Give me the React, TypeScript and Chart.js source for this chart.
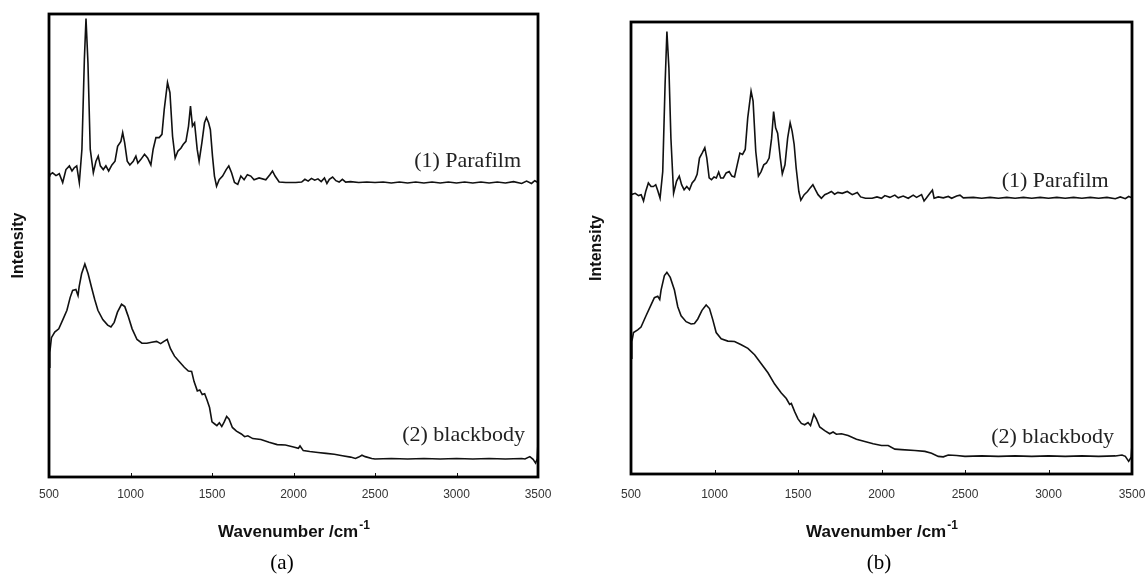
import React, { useEffect, useRef } from "react";
import { Chart, registerables } from "chart.js";
Chart.register(...registerables);

// ---------- tick labels ----------
const xTickValues = [500, 1000, 1500, 2000, 2500, 3000, 3500];
const xTickLabels = ["500", "1000", "1500", "2000", "2500", "3000", "3500"];

// ---------- panel (a) ----------
const paraA_x = [500, 506, 522, 543, 563, 584, 604, 625, 641, 655, 670, 686, 702, 717, 727, 739, 753, 772, 788, 802, 815, 833, 849, 866, 886, 905, 921, 941, 952, 964, 980, 996, 1017, 1033, 1045, 1064, 1086, 1105, 1125, 1139, 1156, 1176, 1193, 1207, 1227, 1242, 1258, 1274, 1291, 1309, 1323, 1340, 1356, 1368, 1380, 1393, 1409, 1421, 1438, 1454, 1466, 1479, 1490, 1503, 1515, 1528, 1544, 1565, 1587, 1603, 1620, 1638, 1658, 1677, 1697, 1717, 1738, 1758, 1789, 1830, 1855, 1871, 1887, 1912, 1953, 2014, 2050, 2070, 2090, 2110, 2130, 2150, 2170, 2190, 2205, 2220, 2240, 2260, 2280, 2300, 2320, 2350, 2400, 2450, 2500, 2550, 2600, 2650, 2700, 2750, 2800, 2850, 2900, 2950, 3000, 3050, 3100, 3150, 3200, 3250, 3300, 3350, 3400, 3430, 3460, 3480, 3500];
const paraA_y = [65.1, 65.3, 65.7, 65.1, 65.5, 63.6, 66.4, 67.2, 66.1, 66.8, 67.2, 63.6, 70.8, 90.2, 99.0, 89.4, 70.8, 65.7, 68.2, 69.3, 67.2, 66.4, 67.2, 66.1, 67.4, 68.2, 71.4, 72.5, 74.4, 72.2, 68.2, 67.4, 68.2, 69.3, 67.8, 68.6, 69.7, 68.9, 67.4, 70.8, 73.3, 73.3, 74.0, 79.4, 85.2, 83.0, 73.6, 68.9, 70.4, 71.0, 71.8, 72.5, 75.8, 80.1, 75.8, 76.5, 70.8, 68.2, 72.2, 76.5, 77.6, 76.5, 75.0, 69.3, 65.0, 62.8, 64.2, 65.0, 66.4, 67.2, 65.7, 63.6, 63.2, 65.0, 64.2, 65.3, 65.0, 64.2, 64.6, 64.2, 65.3, 66.1, 65.0, 63.7, 63.6, 63.6, 63.7, 64.3, 63.9, 64.5, 64.1, 64.4, 63.8, 64.6, 63.4, 64.3, 64.8, 64.0, 63.7, 64.3, 63.7, 63.8, 63.6, 63.7, 63.6, 63.7, 63.5, 63.7, 63.5, 63.7, 63.5, 63.7, 63.5, 63.7, 63.5, 63.7, 63.5, 63.7, 63.5, 63.7, 63.5, 63.8, 63.4, 63.9, 63.4, 64.0, 63.6];

const bbA_x = [500, 505, 515, 535, 560, 585, 610, 630, 645, 665, 678, 685, 700, 720, 740, 760, 780, 800, 830, 860, 880, 900, 920, 945, 965, 985, 1010, 1040, 1070, 1100, 1130, 1160, 1185, 1205, 1225, 1245, 1270, 1300, 1330, 1355, 1375, 1390, 1410, 1425, 1440, 1455, 1470, 1485, 1500, 1515, 1530, 1545, 1560, 1575, 1590, 1605, 1625, 1650, 1680, 1700, 1720, 1750, 1800, 1850, 1900, 1950, 2000, 2030, 2040, 2060, 2100, 2150, 2200, 2250, 2300, 2350, 2380, 2400, 2420, 2440, 2480, 2500, 2600, 2700, 2800, 2900, 3000, 3100, 3200, 3300, 3400, 3420, 3450, 3470, 3485, 3495, 3500];
const bbA_y = [23.7, 26.9, 30.1, 31.3, 32.0, 34.0, 36.0, 38.8, 40.3, 40.5, 39.2, 41.1, 43.9, 46.0, 43.9, 41.1, 38.4, 36.0, 34.0, 32.8, 32.4, 33.4, 35.6, 37.3, 36.8, 34.8, 32.0, 29.7, 28.9, 28.9, 29.1, 29.3, 28.8, 29.3, 29.7, 27.7, 26.1, 24.9, 23.7, 22.9, 22.8, 20.6, 18.6, 18.8, 17.8, 18.0, 16.6, 15.0, 11.9, 11.5, 11.1, 11.7, 10.9, 11.9, 13.1, 12.5, 10.7, 9.9, 9.3, 8.7, 8.9, 8.3, 8.1, 7.5, 7.0, 6.9, 6.5, 6.2, 6.7, 5.7, 5.5, 5.3, 5.1, 4.9, 4.6, 4.3, 4.0, 4.3, 4.7, 4.4, 4.0, 3.9, 4.0, 3.9, 4.0, 3.9, 4.0, 3.9, 4.0, 3.9, 4.0, 3.9, 4.4, 3.8, 3.0, 3.9, 7.5];

// ---------- panel (b) ----------
const paraB_x = [500, 505, 525, 545, 561, 575, 588, 604, 620, 634, 648, 660, 674, 690, 704, 715, 727, 739, 755, 773, 789, 803, 818, 834, 850, 866, 882, 896, 910, 926, 942, 954, 968, 982, 997, 1011, 1025, 1037, 1053, 1070, 1088, 1104, 1120, 1136, 1152, 1168, 1184, 1199, 1219, 1231, 1247, 1263, 1279, 1295, 1311, 1327, 1342, 1354, 1366, 1378, 1394, 1406, 1422, 1438, 1453, 1465, 1477, 1489, 1505, 1517, 1537, 1557, 1573, 1589, 1604, 1620, 1640, 1660, 1680, 1700, 1719, 1739, 1765, 1795, 1825, 1855, 1875, 1904, 1944, 1973, 2000, 2020, 2050, 2080, 2100, 2130, 2160, 2190, 2210, 2240, 2255, 2270, 2290, 2305, 2315, 2340, 2370, 2400, 2420, 2450, 2470, 2490, 2550, 2600, 2650, 2700, 2750, 2800, 2850, 2900, 2950, 3000, 3050, 3100, 3150, 3200, 3250, 3300, 3350, 3400, 3430, 3460, 3480, 3500];
const paraB_y = [61.8, 61.8, 62.1, 61.6, 61.8, 60.4, 62.5, 64.4, 63.6, 63.6, 64.0, 62.7, 61.0, 66.9, 86.1, 97.9, 89.8, 74.3, 62.1, 64.8, 65.9, 64.0, 62.9, 63.6, 62.9, 64.4, 65.1, 66.3, 69.9, 71.0, 72.2, 69.9, 65.5, 65.1, 65.7, 65.5, 66.8, 65.5, 65.5, 66.6, 66.9, 65.9, 65.7, 68.4, 71.0, 70.7, 71.8, 78.8, 84.7, 82.5, 71.4, 65.9, 66.9, 68.4, 68.8, 69.9, 74.3, 80.2, 76.6, 75.4, 69.9, 66.4, 68.4, 74.3, 77.7, 75.8, 72.9, 67.7, 62.5, 60.6, 61.8, 62.5, 63.3, 64.0, 62.9, 61.8, 61.0, 61.8, 62.1, 62.5, 61.9, 62.3, 62.1, 62.5, 61.8, 62.3, 61.3, 61.0, 61.0, 61.3, 61.0, 61.6, 61.2, 61.7, 61.1, 61.5, 61.0, 61.7, 61.2, 61.8, 60.4, 61.1, 62.1, 62.8, 61.0, 61.3, 61.1, 61.4, 61.0, 61.5, 61.7, 61.1, 61.2, 61.0, 61.2, 61.0, 61.2, 61.0, 61.2, 61.0, 61.2, 61.0, 61.2, 61.0, 61.2, 61.0, 61.2, 61.0, 61.2, 60.9, 61.3, 60.9, 61.4, 61.1];

const bbB_x = [500, 505, 515, 540, 560, 590, 620, 640, 660, 672, 680, 700, 715, 735, 760, 780, 800, 830, 860, 880, 900, 925, 950, 970, 990, 1010, 1040, 1080, 1120, 1160, 1200, 1240, 1280, 1320, 1360, 1400, 1430, 1450, 1460, 1480, 1500, 1520, 1540, 1560, 1575, 1595, 1610, 1630, 1660, 1690, 1710, 1730, 1760, 1800, 1850, 1900, 1950, 2000, 2040, 2080, 2120, 2200, 2260, 2300, 2340, 2370, 2400, 2450, 2500, 2600, 2700, 2800, 2900, 3000, 3100, 3200, 3300, 3400, 3440, 3460, 3480, 3495, 3500];
const bbB_y = [25.6, 29.3, 31.3, 31.9, 32.5, 35.0, 37.4, 39.0, 39.3, 38.6, 40.7, 43.9, 44.6, 43.5, 40.7, 37.0, 35.0, 33.7, 33.2, 33.3, 34.3, 36.2, 37.4, 36.6, 34.1, 31.3, 29.9, 29.4, 29.3, 28.6, 27.8, 26.4, 24.4, 22.4, 19.9, 17.9, 16.7, 15.4, 15.6, 13.8, 12.2, 11.2, 10.9, 11.4, 10.7, 13.2, 12.2, 10.4, 9.6, 8.9, 9.3, 8.8, 8.9, 8.5, 7.7, 7.2, 6.7, 6.3, 6.3, 5.5, 5.4, 5.2, 5.0, 4.6, 3.9, 3.8, 4.2, 4.1, 3.9, 4.0, 3.9, 4.0, 3.9, 4.0, 3.9, 4.0, 3.9, 4.0, 4.2, 3.9, 2.8, 3.7, 6.5];

// ---------- labels ----------
const seriesLabels = ["(1) Parafilm", "(2) blackbody"];
const panelLabels = ["(a)", "(b)"];
const xTitle = "Wavenumber /cm";
const xTitleSup = "-1";
const yTitle = "Intensity";

type Geo = {
  offsetX: number; width: number; height: number;
  left: number; right: number; top: number; bottom: number;
  tickY: number; xTitleY: number; yTitleX: number;
  panelX: number; panelY: number;
  lab1: [number, number]; lab2: [number, number];
};

const SANS = '"Liberation Sans", Arial, sans-serif';
const SERIF = '"Liberation Serif", "Times New Roman", serif';

function pts(xs: number[], ys: number[]) {
  return xs.map((x, i) => ({ x, y: ys[i] }));
}

function Panel({ geo, para, bb, label }: { geo: Geo; para: [number[], number[]]; bb: [number[], number[]]; label: string }) {
  const ref = useRef<HTMLCanvasElement>(null);
  useEffect(() => {
    const overlay = {
      id: "overlay",
      afterDraw(chart: any) {
        const { ctx, chartArea: a, scales } = chart;
        const xs = scales.x, ys = scales.y;
        ctx.save();
        // inner tick marks + tick labels
        ctx.strokeStyle = "#111";
        ctx.lineWidth = 1;
        ctx.fillStyle = "#333";
        ctx.font = `12px ${SANS}`;
        ctx.textAlign = "center";
        ctx.textBaseline = "middle";
        xTickValues.forEach((v, i) => {
          const p = xs.getPixelForValue(v);
          const px = Math.round(p) + 0.5;
          ctx.beginPath();
          ctx.moveTo(px, a.bottom);
          ctx.lineTo(px, a.bottom - 4);
          ctx.stroke();
          ctx.fillText(xTickLabels[i], p, geo.tickY);
        });
        // frame
        ctx.lineWidth = 2.8;
        ctx.strokeStyle = "#000";
        ctx.strokeRect(a.left, a.top, a.right - a.left, a.bottom - a.top);
        // series labels
        ctx.fillStyle = "#222";
        ctx.font = `22px ${SERIF}`;
        ctx.textAlign = "right";
        ctx.textBaseline = "middle";
        ctx.fillText(seriesLabels[0], xs.getPixelForValue(geo.lab1[0]), ys.getPixelForValue(geo.lab1[1]));
        ctx.fillText(seriesLabels[1], xs.getPixelForValue(geo.lab2[0]), ys.getPixelForValue(geo.lab2[1]));
        // x title
        ctx.fillStyle = "#111";
        ctx.font = `bold 17px ${SANS}`;
        const w1 = ctx.measureText(xTitle).width;
        ctx.font = `bold 12px ${SANS}`;
        const w2 = ctx.measureText(xTitleSup).width;
        const cx = (a.left + a.right) / 2;
        const sx = cx - (w1 + w2) / 2;
        ctx.textAlign = "left";
        ctx.textBaseline = "alphabetic";
        ctx.font = `bold 17px ${SANS}`;
        ctx.fillText(xTitle, sx, geo.xTitleY + 6);
        ctx.font = `bold 12px ${SANS}`;
        ctx.fillText(xTitleSup, sx + w1 + 1, geo.xTitleY - 2);
        // y title
        ctx.save();
        ctx.translate(geo.yTitleX, (a.top + a.bottom) / 2);
        ctx.rotate(-Math.PI / 2);
        ctx.font = `bold 16px ${SANS}`;
        ctx.textAlign = "center";
        ctx.textBaseline = "middle";
        ctx.fillText(yTitle, 0, 0);
        ctx.restore();
        // panel label
        ctx.font = `21px ${SERIF}`;
        ctx.textAlign = "center";
        ctx.textBaseline = "middle";
        ctx.fillStyle = "#000";
        ctx.fillText(label, geo.panelX, geo.panelY);
        ctx.restore();
      },
    };
    const chart = new Chart(ref.current as HTMLCanvasElement, {
      type: "line",
      data: {
        datasets: [
          { data: pts(para[0], para[1]), borderColor: "#111", borderWidth: 1.6, pointRadius: 0, tension: 0, fill: false },
          { data: pts(bb[0], bb[1]), borderColor: "#111", borderWidth: 1.6, pointRadius: 0, tension: 0, fill: false },
        ],
      },
      options: {
        animation: false,
        responsive: false,
        maintainAspectRatio: false,
        layout: {
          padding: {
            left: geo.left,
            right: geo.width - geo.right,
            top: geo.top,
            bottom: geo.height - geo.bottom,
          },
        },
        plugins: { legend: { display: false }, tooltip: { enabled: false } },
        scales: {
          x: { type: "linear", display: false, min: 500, max: 3500 },
          y: { display: false, min: 0, max: 100 },
        },
      },
      plugins: [overlay],
    } as any);
    return () => chart.destroy();
  }, []);
  return (
    <canvas
      ref={ref}
      width={geo.width}
      height={geo.height}
      style={{ position: "absolute", left: geo.offsetX, top: 0, width: geo.width, height: geo.height }}
    />
  );
}

const geoA: Geo = {
  offsetX: 0, width: 573, height: 576,
  left: 49, right: 538, top: 14, bottom: 477,
  tickY: 495, xTitleY: 531, yTitleX: 19,
  panelX: 282, panelY: 563,
  lab1: [3396, 68.3], lab2: [3420, 9.1],
};
const geoB: Geo = {
  offsetX: 573, width: 574, height: 576,
  left: 58, right: 559, top: 22, bottom: 474,
  tickY: 495, xTitleY: 531, yTitleX: 23.5,
  panelX: 306, panelY: 563,
  lab1: [3360, 64.8], lab2: [3392, 8.1],
};

export default function App() {
  useEffect(() => {
    document.body.style.margin = "0";
    document.body.style.background = "#fff";
  }, []);
  return (
    <div style={{ position: "relative", width: 1147, height: 576, background: "#fff", overflow: "hidden" }}>
      <Panel geo={geoA} para={[paraA_x, paraA_y]} bb={[bbA_x, bbA_y]} label={panelLabels[0]} />
      <Panel geo={geoB} para={[paraB_x, paraB_y]} bb={[bbB_x, bbB_y]} label={panelLabels[1]} />
    </div>
  );
}
